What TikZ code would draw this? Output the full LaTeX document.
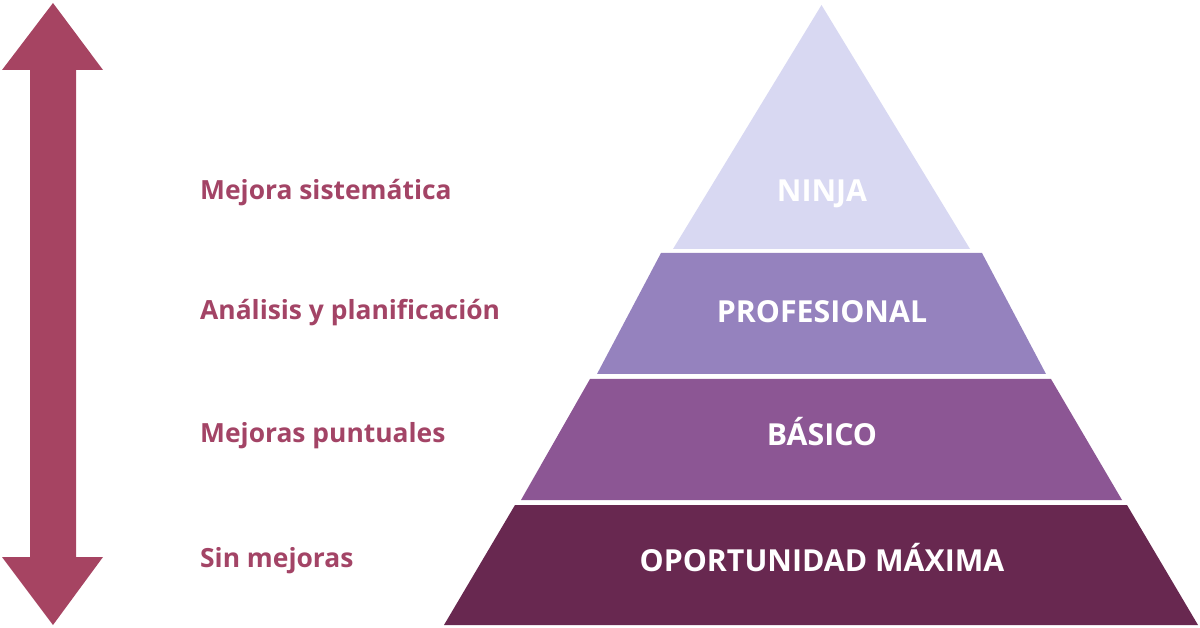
\documentclass[tikz,border=0pt]{standalone}
\usepackage{fontspec}
\setmainfont{Open Sans}
\definecolor{arrowc}{HTML}{A64462}
\definecolor{labelc}{HTML}{A34466}
\definecolor{ninjac}{HTML}{D8D8F2}
\definecolor{profc}{HTML}{9582BE}
\definecolor{basc}{HTML}{8C5694}
\definecolor{oporc}{HTML}{682850}
\begin{document}
\begin{tikzpicture}[x=1pt,y=-1pt,
  sidelabel/.style={anchor=base west,inner sep=0pt,text=labelc,font=\bfseries\fontsize{26.4}{30}\selectfont},
  levellabel/.style={anchor=base,inner sep=0pt,text=white,font=\bfseries\fontsize{30.3}{34}\selectfont}]
\useasboundingbox (0,0) rectangle (1200,628);
% double arrow
\fill[arrowc] (53,3) -- (103,70) -- (76,70) -- (76,557) -- (103,557) -- (53,625)
  -- (2,557) -- (30,557) -- (30,70) -- (2,70) -- cycle;
% pyramid layers
\fill[ninjac] (821.5,5) -- (970,249) -- (673,249) -- cycle;
\fill[profc] (661,253) -- (982,253) -- (1046,374) -- (597,374) -- cycle;
\fill[basc] (590,379) -- (1051,379) -- (1122,500) -- (521,500) -- cycle;
\fill[oporc] (515,505) -- (1127,505) -- (1198,625) -- (444,625) -- cycle;
% level labels
\node[levellabel] (ninja) at (822,202) {NINJA};
\node[levellabel] (prof) at (822,323) {PROFESIONAL};
\node[levellabel] (bas) at (822,445) {BÁSICO};
\node[levellabel] (opor) at (822,571) {OPORTUNIDAD MÁXIMA};
% side labels
\node[sidelabel] (l1) at (200,200) {Mejora sistemática};
\node[sidelabel] (l2) at (200,320) {Análisis y planificación};
\node[sidelabel] (l3) at (200,442) {Mejoras puntuales};
\node[sidelabel] (l4) at (200,567) {Sin mejoras};
\end{tikzpicture}
\end{document}
